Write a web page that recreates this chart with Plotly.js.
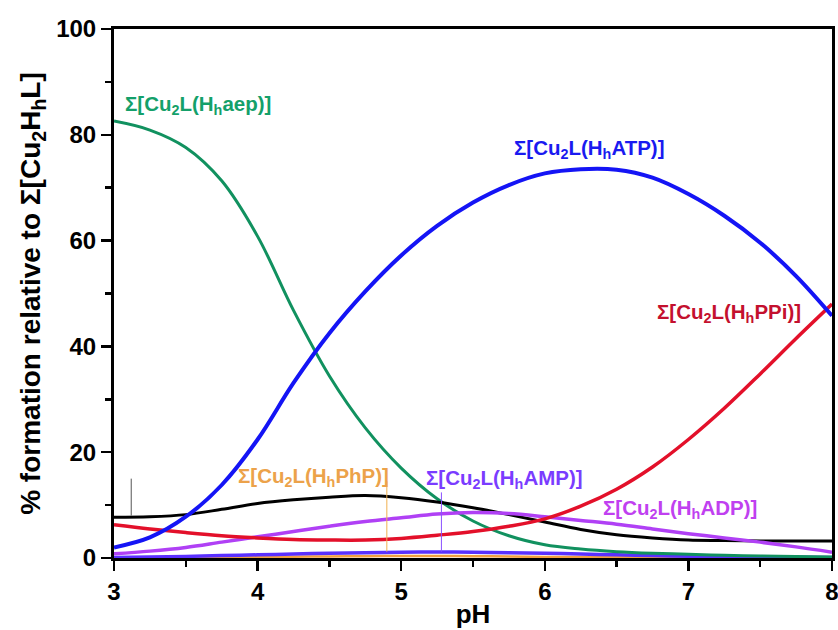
<!DOCTYPE html>
<html>
<head>
<meta charset="utf-8">
<script src="https://cdn.plot.ly/plotly-3.0.1.min.js"></script>
<style>html,body{margin:0;padding:0;background:#fff;}</style>
</head>
<body>
<div id="chart" style="width:838px;height:630px;"></div>
<script>
// pH grid
const pH = [3.0, 3.25, 3.5, 3.75, 4.0, 4.25, 4.5, 4.75, 5.0, 5.25, 5.5, 5.75, 6.0, 6.25, 6.5, 6.75, 7.0, 7.25, 7.5, 7.75, 8.0];
// species distribution (% relative to Σ[Cu2HhL])
const aep = [82.6, 80.9, 77.6, 71.3, 60.8, 46.8, 34.4, 24.6, 17.0, 11.2, 7.0, 4.2, 2.5, 1.7, 1.2, 0.9, 0.7, 0.5, 0.4, 0.3, 0.2];
const atp = [2.0, 3.9, 7.8, 13.8, 22.4, 33.1, 42.5, 50.4, 57.2, 62.8, 67.2, 70.5, 72.7, 73.5, 73.4, 71.9, 68.8, 64.7, 59.6, 53.3, 45.8];
const ppi = [6.3, 5.5, 4.8, 4.2, 3.8, 3.5, 3.4, 3.4, 3.7, 4.3, 5.0, 6.0, 7.4, 9.8, 13.0, 17.2, 22.4, 28.3, 34.8, 41.5, 48.0];
const cu2hhl = [7.7, 7.8, 8.2, 9.2, 10.3, 11.0, 11.5, 11.8, 11.4, 10.6, 9.5, 8.2, 6.8, 5.4, 4.4, 3.8, 3.4, 3.3, 3.2, 3.2, 3.2];
const adp = [0.8, 1.3, 2.0, 3.0, 4.0, 5.0, 6.0, 6.9, 7.6, 8.3, 8.6, 8.4, 7.8, 7.1, 6.4, 5.5, 4.6, 3.8, 3.0, 2.1, 1.1];
const amp = [0.1, 0.2, 0.3, 0.45, 0.6, 0.75, 0.9, 1.0, 1.1, 1.15, 1.1, 1.0, 0.9, 0.75, 0.6, 0.45, 0.35, 0.28, 0.2, 0.15, 0.1];
const php = [0.0, 0.05, 0.1, 0.15, 0.2, 0.25, 0.3, 0.35, 0.4, 0.38, 0.35, 0.3, 0.2, 0.18, 0.15, 0.12, 0.1, 0.07, 0.05, 0.02, 0.0];

// label texts
const labels = {
  aep: "Σ[Cu<sub>2</sub>L(H<sub>h</sub>aep)]",
  atp: "Σ[Cu<sub>2</sub>L(H<sub>h</sub>ATP)]",
  ppi: "Σ[Cu<sub>2</sub>L(H<sub>h</sub>PPi)]",
  cu2hhl: "Σ[Cu<sub>2</sub>H<sub>h</sub>L)]",
  php: "Σ[Cu<sub>2</sub>L(H<sub>h</sub>PhP)]",
  amp: "Σ[Cu<sub>2</sub>L(H<sub>h</sub>AMP)]",
  adp: "Σ[Cu<sub>2</sub>L(H<sub>h</sub>ADP)]"
};

const C = {
  aep: "#11915f", atp: "#1414f5", ppi: "#e3102a", cu2hhl: "#000000",
  php: "#f0a040", amp: "#5a30ff", adp: "#b040f5"
};
const T = {
  aep: "#14a06a", atp: "#1a1af0", ppi: "#c4102e", cu2hhl: "#000000",
  php: "#eca24a", amp: "#7a3cff", adp: "#c040f0"
};

function tr(y, key, w) {
  return {x: pH, y: y, type: "scatter", mode: "lines", name: key,
    line: {color: C[key], width: w, shape: "spline", smoothing: 1}, hoverinfo: "skip"};
}
const data = [
  tr(php, "php", 2.5),
  tr(amp, "amp", 3.5),
  tr(aep, "aep", 3),
  tr(cu2hhl, "cu2hhl", 3),
  tr(adp, "adp", 3.5),
  tr(ppi, "ppi", 3.5),
  tr(atp, "atp", 4)
];

const font = "Liberation Sans, Arial, sans-serif";
function ann(key, x, y) {
  return {x: x, y: y, xref: "x", yref: "y", text: labels[key], showarrow: false,
    xanchor: "left", yanchor: "middle",
    font: {family: font, size: 20.5, color: T[key], weight: "bold"}};
}

const layout = {
  width: 838, height: 630,
  margin: {l: 114, r: 6, t: 29, b: 72},
  paper_bgcolor: "#fff", plot_bgcolor: "#fff",
  showlegend: false,
  xaxis: {
    range: [3, 8], dtick: 1, tick0: 3,
    ticks: "outside", ticklen: 10, tickwidth: 2.5, tickcolor: "#000",
    minor: {dtick: 0.5, ticks: "outside", ticklen: 6, tickwidth: 2.5, tickcolor: "#000"},
    showline: true, linewidth: 3, linecolor: "#000", mirror: true,
    showgrid: false, zeroline: false, ticklabeloverflow: "allow",
    tickfont: {family: font, size: 24, color: "#000", weight: "bold"},
    title: {text: "pH", standoff: 2, font: {family: font, size: 26, color: "#000", weight: "bold"}}
  },
  yaxis: {
    range: [0, 100], dtick: 20, tick0: 0,
    ticks: "outside", ticklen: 10, tickwidth: 2.5, tickcolor: "#000",
    minor: {dtick: 10, ticks: "outside", ticklen: 6, tickwidth: 2.5, tickcolor: "#000"},
    showline: true, linewidth: 3, linecolor: "#000", mirror: true,
    showgrid: false, zeroline: false, ticklabeloverflow: "allow",
    tickfont: {family: font, size: 24, color: "#000", weight: "bold"},
    title: {text: "% formation relative to Σ[Cu<sub>2</sub>H<sub>h</sub>L]", standoff: 8,
      font: {family: font, size: 28, color: "#000", weight: "bold"}}
  },
  shapes: [
    {type: "line", xref: "x", yref: "y", x0: 3.12, x1: 3.12, y0: 8.0, y1: 15.0, line: {color: "#555", width: 1}},
    {type: "line", xref: "x", yref: "y", x0: 4.9, x1: 4.9, y0: 1.2, y1: 14.5, line: {color: "#f0b050", width: 1}},
    {type: "line", xref: "x", yref: "y", x0: 5.28, x1: 5.28, y0: 1.2, y1: 12.4, line: {color: "#8a50ff", width: 1}}
  ],
  annotations: [
    ann("aep", 3.06, 85.6),
    ann("atp", 5.77, 77.4),
    ann("ppi", 6.77, 46.3),
    ann("cu2hhl", 2.99, 17.3),
    ann("php", 3.85, 15.4),
    ann("amp", 5.16, 15.0),
    ann("adp", 6.39, 9.2)
  ]
};

Plotly.newPlot("chart", data, layout, {displayModeBar: false, staticPlot: true});
</script>
</body>
</html>
